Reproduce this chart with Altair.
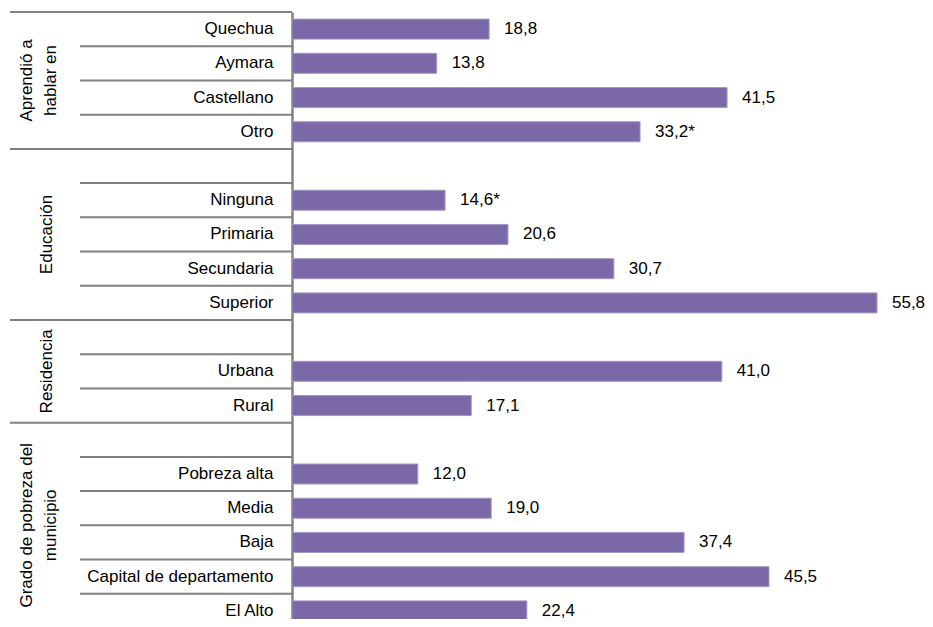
import altair as alt
import pandas as pd

# ---- data ----
group_names = ["Aprendió a\nhablar en", "Educación", "Residencia", "Grado de pobreza del\nmunicipio"]
group_sizes = [4, 4, 2, 5]
categories = ["Quechua", "Aymara", "Castellano", "Otro",
              "Ninguna", "Primaria", "Secundaria", "Superior",
              "Urbana", "Rural",
              "Pobreza alta", "Media", "Baja", "Capital de departamento", "El Alto"]
values = [18.8, 13.8, 41.5, 33.2,
          14.6, 20.6, 30.7, 55.8,
          41.0, 17.1,
          12.0, 19.0, 37.4, 45.5, 22.4]
value_labels = ["18,8", "13,8", "41,5", "33,2*",
                "14,6*", "20,6", "30,7", "55,8",
                "41,0", "17,1",
                "12,0", "19,0", "37,4", "45,5", "22,4"]

# ---- build row order (a blank row opens every group after the first) ----
row_order = []
group_spans = []
idx = 0
for gi, size in enumerate(group_sizes):
    start = len(row_order)
    if gi > 0:
        row_order.append(f"_blank{gi}")
    row_order.extend(categories[idx:idx + size])
    idx += size
    group_spans.append((start, len(row_order)))

bars_df = pd.DataFrame({"row": categories, "value": values, "label": value_labels})

first_rows = [row_order[s] for s, e in group_spans]
long_rules = pd.DataFrame({"row": first_rows})
short_rules = pd.DataFrame({"row": [r for r in row_order if r not in first_rows]})

two_line, one_line = [], []
for name, (s, e) in zip(group_names, group_spans):
    c2 = s + e
    if c2 % 2 == 0:
        two_line.append({"row": row_order[c2 // 2], "group": name})
    else:
        one_line.append({"row": row_order[c2 // 2], "group": name})
grp_edge = pd.DataFrame(two_line)
grp_mid = pd.DataFrame(one_line)

FONT = "Liberation Sans"
FS = 17
GRAY = "#808080"

yscale = alt.Scale(domain=row_order, paddingInner=0, paddingOuter=0)
xscale = alt.Scale(domain=[0, 60], nice=False)
yaxis = alt.Axis(ticks=False, domainColor=GRAY, domainWidth=2.5, title=None,
                 labelFont=FONT, labelFontSize=FS, labelColor="#000000",
                 labelPadding=19, labelLimit=400,
                 labelExpr="indexof(datum.value, '_blank') == 0 ? '' : datum.value")


def ypos(band=None):
    if band is None:
        return alt.Y("row:N", scale=yscale, sort=row_order, axis=yaxis)
    return alt.Y("row:N", scale=yscale, sort=row_order, axis=yaxis, bandPosition=band)


bars = alt.Chart(bars_df).mark_bar(size=20, color="#7b68a6", stroke="#a495c9", strokeWidth=1).encode(
    x=alt.X("value:Q", scale=xscale, axis=None),
    y=ypos(),
)

vals = alt.Chart(bars_df).mark_text(align="left", baseline="middle", dx=15,
                                    font=FONT, fontSize=FS, color="#000000").encode(
    x=alt.X("value:Q", scale=xscale, axis=None),
    y=ypos(),
    text="label:N",
)

rule_long = alt.Chart(long_rules).mark_rule(color=GRAY, strokeWidth=2).encode(
    y=ypos(0),
    x=alt.value(-282), x2=alt.value(0),
)
rule_short = alt.Chart(short_rules).mark_rule(color=GRAY, strokeWidth=2).encode(
    y=ypos(0),
    x=alt.value(-212), x2=alt.value(0),
)

glab_edge = alt.Chart(grp_edge).mark_text(angle=270, align="center", baseline="middle",
                                          lineBreak="\n", lineHeight=24,
                                          font=FONT, fontSize=FS, color="#000000").encode(
    y=ypos(0),
    x=alt.value(-265),
    text="group:N",
)
glab_mid = alt.Chart(grp_mid).mark_text(angle=270, align="center", baseline="middle",
                                        font=FONT, fontSize=FS, color="#000000").encode(
    y=ypos(0.5),
    x=alt.value(-245),
    text="group:N",
)

chart = alt.layer(bars, vals, rule_long, rule_short, glab_edge, glab_mid).properties(
    width=629, height=616,
    autosize="none",
    padding={"left": 284, "top": 4, "right": 4, "bottom": -9},
    background="white",
).configure_view(stroke=None)

chart.save("out.html", embed_options={"renderer": "svg", "actions": False})
